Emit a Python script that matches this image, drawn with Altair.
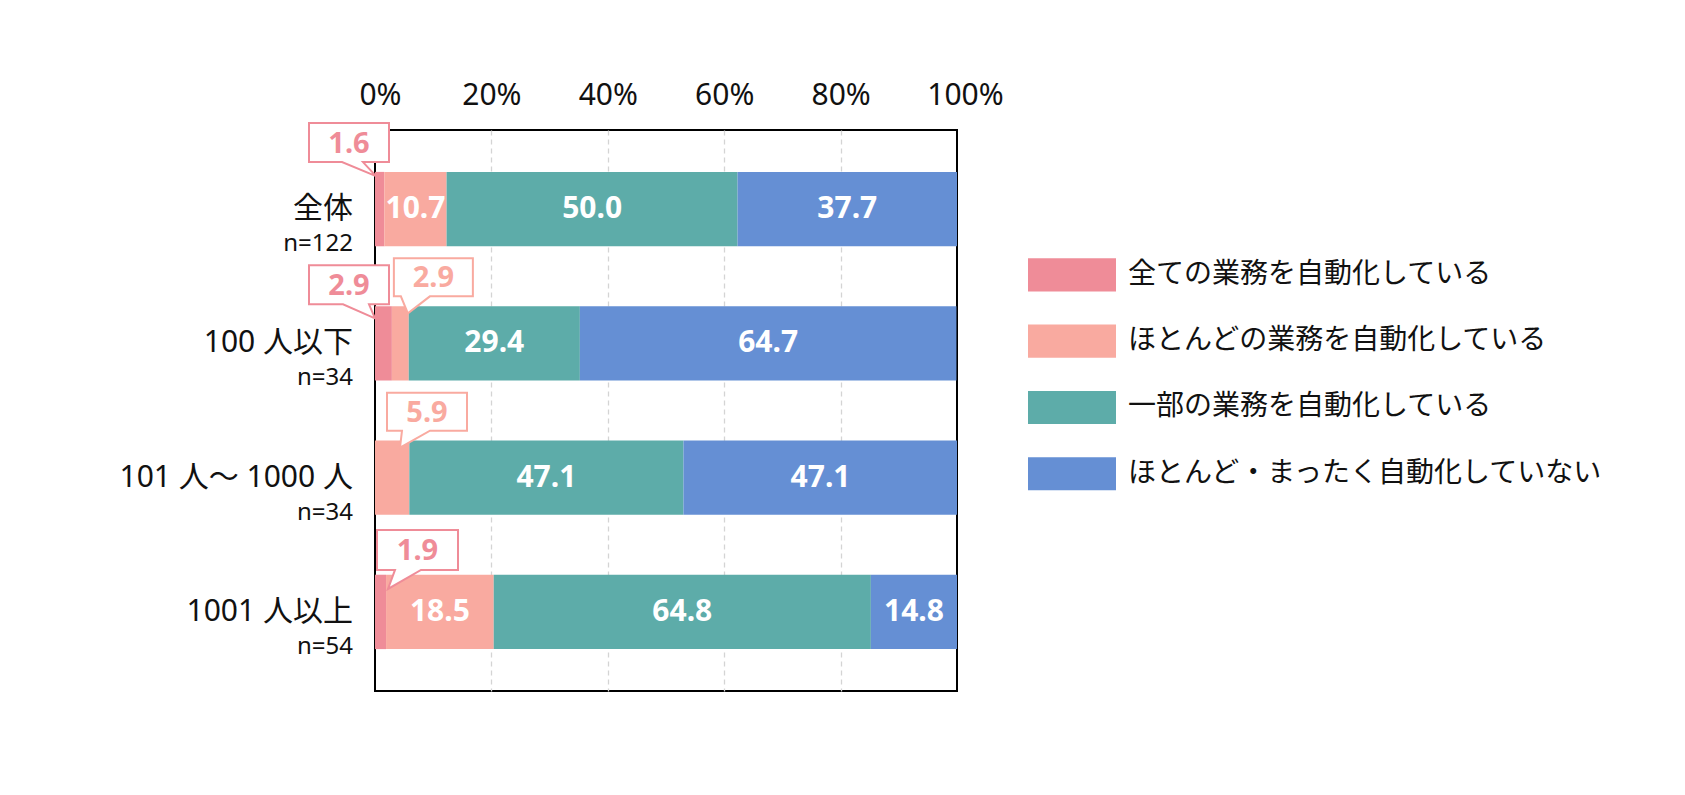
import altair as alt
import pandas as pd

# ---------------- data ----------------
ROWS = ["全体", "100 人以下", "101 人～ 1000 人", "1001 人以上"]
ROW_N = ["n=122", "n=34", "n=34", "n=54"]
SERIES = [
    "全ての業務を自動化している",
    "ほとんどの業務を自動化している",
    "一部の業務を自動化している",
    "ほとんど・まったく自動化していない",
]
S_ALL = [1.6, 2.9, 0.0, 1.9]        # 全ての業務を自動化している
S_MOST = [10.7, 2.9, 5.9, 18.5]     # ほとんどの業務を自動化している
S_PART = [50.0, 29.4, 47.1, 64.8]   # 一部の業務を自動化している
S_NONE = [37.7, 64.7, 47.1, 14.8]   # ほとんど・まったく自動化していない
TICKS = [0, 20, 40, 60, 80, 100]

# small values shown in speech-bubble callouts: (row index, series index)
CALLOUTS = [(0, 0), (1, 0), (1, 1), (2, 1), (3, 0)]

# ---------------- styles ----------------
COLORS = ["#EF8C98", "#F9AAA0", "#5DACA9", "#658FD4"]
FONT = "Noto Sans, Noto Sans CJK JP"
# bubble geometry in pixels relative to (segment start, row centre):
# (box left, box right, box top, box bottom, tail base a, tail base b, tip x, tip y)
CALLOUT_GEOM = [
    (-66, 14, -86, -47, -33, -12, 1, -33),
    (-66, 14, -78, -39, -32, -6, 0, -25),
    (2, 81, -85, -47, 9, 38, 16, -30),
    (12, 92, -85, -47, 27, 55, 25, -30),
    (2, 83, -82, -42, 20, 46, 13, -23),
]

series_vals = [S_ALL, S_MOST, S_PART, S_NONE]
recs = []
for r, row in enumerate(ROWS):
    acc = 0.0
    for s, name in enumerate(SERIES):
        v = series_vals[s][r]
        recs.append(dict(row=row, n=ROW_N[r], series=name, order=s, value=v,
                         x0=acc, x1=acc + v, mid=acc + v / 2,
                         label=f"{v:.1f}"))
        acc += v
df = pd.DataFrame(recs)

W, H = 582, 561
xscale = alt.Scale(domain=[0, 100], nice=False, zero=False)
xaxis = alt.Axis(orient="top", values=TICKS, labelExpr="datum.value + '%'",
                 grid=True, gridDash=[5, 4], gridColor="#d4d4d4", gridWidth=1.3,
                 gridOpacity={"condition": {"test": "datum.value === 0 || datum.value === 100",
                                            "value": 0}, "value": 1},
                 labelOffset={"condition": [{"test": "datum.value === 0", "value": 5},
                                            {"test": "datum.value === 100", "value": 8}],
                              "value": 0},
                 ticks=False, domain=False, labelFontSize=30, labelColor="#111",
                 labelPadding=20, labelFlush=False, title=None, labelFont=FONT)
yscale = alt.Scale(domain=ROWS, paddingInner=0.446, paddingOuter=0.312)
Y = alt.Y("row:N", scale=yscale, axis=None, sort=ROWS)
color_scale = alt.Scale(domain=SERIES, range=COLORS)

base = alt.Chart(df)

bars = base.mark_bar(clip=True).encode(
    x=alt.X("x0:Q", scale=xscale, axis=xaxis),
    x2="x1:Q",
    y=Y,
    color=alt.Color("series:N", scale=color_scale, legend=None),
)

bar_labels = base.transform_filter("datum.value >= 10").mark_text(
    color="white", fontWeight="bold", fontSize=30, baseline="middle", font=FONT
).encode(
    x=alt.X("mid:Q", scale=xscale, axis=xaxis),
    y=Y,
    text="label:N",
)

rows_df = pd.DataFrame({"row": ROWS, "n": ROW_N})
row_names = alt.Chart(rows_df).mark_text(
    align="right", baseline="middle", fontSize=30, dy=0, color="#111", font=FONT
).encode(x=alt.value(-22), y=Y, text="row:N")
row_ns = alt.Chart(rows_df).mark_text(
    align="right", baseline="middle", fontSize=24, dy=35, color="#111", font=FONT
).encode(x=alt.value(-22), y=Y, text="n:N")

layers = [bars, bar_labels, row_names, row_ns]
for (r, s), g in zip(CALLOUTS, CALLOUT_GEOM):
    bl, br, bt, bb, ta, tb, tx, ty = g
    path = (f"M{bl},{bt}L{br},{bt}L{br},{bb}L{tb},{bb}L{tx},{ty}"
            f"L{ta},{bb}L{bl},{bb}Z")
    sub = df[(df.row == ROWS[r]) & (df.order == s)]
    col = COLORS[s]
    bubble = alt.Chart(sub).mark_point(
        shape=path, size=4, filled=True, fill="white", stroke=col,
        strokeWidth=2, opacity=1, fillOpacity=1, strokeOpacity=1
    ).encode(x=alt.X("x0:Q", scale=xscale, axis=xaxis), y=Y)
    txt = alt.Chart(sub).mark_text(
        color=col, fontWeight="bold", fontSize=29, baseline="middle",
        dx=(bl + br) / 2, dy=(bt + bb) / 2 + 1, font=FONT
    ).encode(x=alt.X("x0:Q", scale=xscale, axis=xaxis), y=Y, text="label:N")
    layers += [bubble, txt]

main = alt.layer(*layers).properties(
    width=W, height=H,
    view=alt.ViewBackground(stroke="black", strokeWidth=2),
)

# ---------------- legend panel ----------------
leg_df = pd.DataFrame({"series": SERIES})
LY = alt.Y("series:N", sort=SERIES, axis=None,
           scale=alt.Scale(domain=SERIES, range=[111.7, 376.9],
                           paddingInner=0.5, paddingOuter=0.25))
leg_rect = alt.Chart(leg_df).mark_rect().encode(
    x=alt.value(0), x2=alt.value(88), y=LY,
    color=alt.Color("series:N", scale=color_scale, legend=None),
)
leg_text = alt.Chart(leg_df).mark_text(
    align="left", baseline="middle", fontSize=28, color="#111", font=FONT
).encode(x=alt.value(100), y=LY, text="series:N")
legend = alt.layer(leg_rect, leg_text).properties(
    width=520, height=H, view=alt.ViewBackground(stroke=None, strokeWidth=0)
)

chart = alt.hconcat(main, legend, spacing=71, bounds="flush").properties(
    padding={"left": 110, "top": 71, "right": 5, "bottom": 5}
).configure_view(stroke=None).configure(font=FONT)

chart.save("out.html", embed_options={"renderer": "svg", "actions": False})
